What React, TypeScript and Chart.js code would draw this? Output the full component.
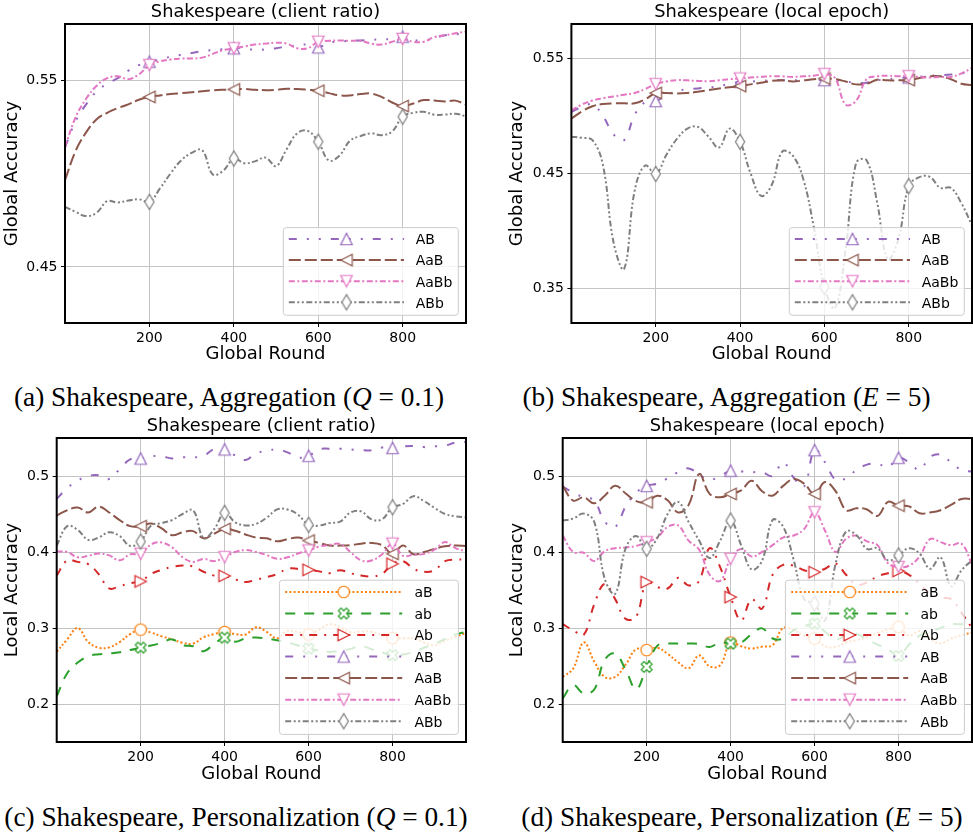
import React, { useEffect, useRef } from 'react';
import { Chart, registerables } from 'chart.js';

Chart.register(...registerables);

const SANS = "'DejaVu Sans', sans-serif";
const SERIF = "'Liberation Serif', 'DejaVu Serif', serif";

// ---- global rounds (x values) ----
const ROUNDS_AGG = [
  0, 25, 50, 75, 100, 125, 150, 175,
  200, 225, 250, 275, 300, 325, 350, 375,
  400, 425, 450, 475, 500, 525, 550, 575,
  600, 625, 650, 675, 700, 725, 750, 775,
  800, 825, 850, 875, 900, 925, 950,
];
const ROUNDS_PERS = [
  0, 25, 50, 75, 100, 125, 150, 175,
  200, 225, 250, 275, 300, 325, 350, 375,
  400, 425, 450, 475, 500, 525, 550, 575,
  600, 625, 650, 675, 700, 725, 750, 775,
  800, 825, 850, 875, 900, 925, 950, 975,
];

// ---- (a) aggregation, client ratio: global accuracy ----
const AGG_Q_AB = [
  0.514, 0.528, 0.537, 0.544, 0.548, 0.551, 0.555, 0.558,
  0.5598, 0.561, 0.5625, 0.5635, 0.5645, 0.5655, 0.566, 0.5665,
  0.567, 0.5672, 0.566, 0.5665, 0.567, 0.568, 0.5685, 0.569,
  0.5675, 0.570, 0.5705, 0.571, 0.5712, 0.5715, 0.5718, 0.572,
  0.5732, 0.5715, 0.571, 0.5725, 0.574, 0.5745, 0.575,
];
const AGG_Q_AaB = [
  0.4964, 0.512, 0.522, 0.529, 0.5325, 0.535, 0.537, 0.5395,
  0.541, 0.5418, 0.5425, 0.543, 0.5435, 0.544, 0.5445, 0.5448,
  0.545, 0.5452, 0.5448, 0.5446, 0.5448, 0.5453, 0.5452, 0.5448,
  0.5443, 0.543, 0.5418, 0.5418, 0.5425, 0.5428, 0.541, 0.538,
  0.5361, 0.5375, 0.5393, 0.539, 0.5385, 0.539, 0.5368,
];
const AGG_Q_AaBb = [
  0.514, 0.530, 0.540, 0.547, 0.551, 0.552, 0.5505, 0.553,
  0.558, 0.560, 0.561, 0.5615, 0.5615, 0.562, 0.564, 0.566,
  0.567, 0.568, 0.569, 0.5695, 0.570, 0.5695, 0.567, 0.567,
  0.5705, 0.571, 0.5712, 0.571, 0.571, 0.5695, 0.569, 0.5705,
  0.572, 0.5705, 0.5705, 0.573, 0.574, 0.575, 0.576,
];
const AGG_Q_ABb = [
  0.4821, 0.4795, 0.4772, 0.479, 0.4852, 0.4845, 0.4855, 0.4862,
  0.4848, 0.492, 0.500, 0.507, 0.511, 0.5125, 0.4995, 0.5015,
  0.508, 0.5055, 0.5065, 0.5085, 0.504, 0.513, 0.5215, 0.5228,
  0.517, 0.507, 0.5095, 0.5175, 0.520, 0.5215, 0.5205, 0.5225,
  0.5304, 0.5325, 0.533, 0.5315, 0.5315, 0.532, 0.5305,
];

// ---- (b) aggregation, local epoch: global accuracy ----
const AGG_E_AB = [
  0.5036, 0.508, 0.510, 0.500, 0.484, 0.479, 0.501, 0.512,
  0.513, 0.518, 0.5219, 0.523, 0.524, 0.5248, 0.526, 0.528,
  0.5297, 0.530, 0.5305, 0.531, 0.531, 0.531, 0.5312, 0.5312,
  0.5312, 0.531, 0.530, 0.529, 0.529, 0.531, 0.532, 0.533,
  0.5335, 0.534, 0.535, 0.5355, 0.536, 0.537, 0.5384,
];
const AGG_E_AaB = [
  0.4978, 0.504, 0.5085, 0.5105, 0.511, 0.511, 0.511, 0.5145,
  0.520, 0.520, 0.5196, 0.520, 0.521, 0.5225, 0.524, 0.525,
  0.526, 0.5275, 0.529, 0.5305, 0.531, 0.530, 0.531, 0.532,
  0.5326, 0.532, 0.530, 0.5275, 0.528, 0.5315, 0.531, 0.531,
  0.5312, 0.533, 0.5345, 0.5345, 0.532, 0.528, 0.5268,
];
const AGG_E_AaBb = [
  0.505, 0.510, 0.5135, 0.5155, 0.517, 0.5185, 0.520, 0.5235,
  0.5277, 0.530, 0.5312, 0.531, 0.5305, 0.5303, 0.531, 0.532,
  0.5326, 0.5335, 0.534, 0.5346, 0.5345, 0.534, 0.5345, 0.535,
  0.5364, 0.533, 0.510, 0.513, 0.532, 0.5345, 0.535, 0.5345,
  0.5346, 0.534, 0.5335, 0.534, 0.534, 0.537, 0.5419,
];
const AGG_E_ABb = [
  0.482, 0.481, 0.479, 0.457, 0.390, 0.367, 0.435, 0.457,
  0.4496, 0.466, 0.480, 0.489, 0.4905, 0.482, 0.4725, 0.489,
  0.4776, 0.450, 0.4305, 0.440, 0.469, 0.4655, 0.445, 0.403,
  0.3514, 0.333, 0.383, 0.459, 0.4615, 0.425, 0.3755, 0.392,
  0.439, 0.4468, 0.4471, 0.4375, 0.4375, 0.424, 0.405,
];

// ---- (c) personalization, client ratio: local accuracy ----
const PERS_Q_aB = [
  0.2685, 0.285, 0.300, 0.2817, 0.274, 0.2745, 0.2815, 0.292,
  0.2979, 0.294, 0.289, 0.285, 0.2805, 0.2795, 0.288, 0.292,
  0.2948, 0.292, 0.2915, 0.301, 0.295, 0.2865, 0.2965, 0.2945,
  0.2914, 0.298, 0.305, 0.301, 0.2945, 0.2955, 0.295, 0.2905,
  0.287, 0.2865, 0.2865, 0.281, 0.2774, 0.283, 0.2885, 0.2936,
];
const PERS_Q_ab = [
  0.210, 0.2405, 0.2545, 0.263, 0.2655, 0.2665, 0.268, 0.271,
  0.2742, 0.277, 0.2805, 0.285, 0.2775, 0.276, 0.2695, 0.279,
  0.2874, 0.282, 0.2865, 0.2875, 0.286, 0.284, 0.281, 0.277,
  0.273, 0.270, 0.2685, 0.270, 0.2725, 0.2765, 0.272, 0.268,
  0.2643, 0.265, 0.2687, 0.274, 0.279, 0.2855, 0.2915, 0.295,
];
const PERS_Q_Ab = [
  0.369, 0.389, 0.387, 0.384, 0.371, 0.352, 0.355, 0.359,
  0.3613, 0.3713, 0.3765, 0.3805, 0.3822, 0.381, 0.374, 0.369,
  0.3686, 0.364, 0.3605, 0.3635, 0.367, 0.371, 0.378, 0.378,
  0.3765, 0.3745, 0.372, 0.376, 0.372, 0.369, 0.368, 0.371,
  0.3845, 0.388, 0.378, 0.374, 0.376, 0.388, 0.390, 0.390,
];
const PERS_Q_AB = [
  0.470, 0.484, 0.494, 0.500, 0.501, 0.496, 0.509, 0.522,
  0.523, 0.526, 0.526, 0.523, 0.5245, 0.5245, 0.5265, 0.5354,
  0.535, 0.527, 0.521, 0.530, 0.533, 0.535, 0.531, 0.5244,
  0.5266, 0.535, 0.536, 0.536, 0.535, 0.534, 0.534, 0.5375,
  0.537, 0.539, 0.5395, 0.538, 0.539, 0.540, 0.544, 0.545,
];
const PERS_Q_AaB = [
  0.448, 0.455, 0.4585, 0.452, 0.4597, 0.452, 0.442, 0.434,
  0.434, 0.4375, 0.431, 0.422, 0.426, 0.4275, 0.418, 0.424,
  0.4304, 0.428, 0.423, 0.419, 0.418, 0.414, 0.417, 0.419,
  0.4151, 0.412, 0.4085, 0.4085, 0.409, 0.411, 0.412, 0.409,
  0.3976, 0.4085, 0.397, 0.400, 0.4042, 0.4075, 0.4085, 0.408,
];
const PERS_Q_AaBb = [
  0.4007, 0.400, 0.393, 0.395, 0.398, 0.3955, 0.389, 0.397,
  0.3976, 0.410, 0.4125, 0.406, 0.393, 0.387, 0.391, 0.388,
  0.3932, 0.400, 0.4025, 0.400, 0.396, 0.391, 0.393, 0.398,
  0.402, 0.407, 0.4095, 0.4105, 0.400, 0.389, 0.3888, 0.397,
  0.411, 0.395, 0.3965, 0.3975, 0.403, 0.413, 0.405, 0.401,
];
const PERS_Q_ABb = [
  0.4085, 0.434, 0.429, 0.416, 0.419, 0.426, 0.421, 0.408,
  0.4138, 0.4348, 0.438, 0.442, 0.450, 0.455, 0.418, 0.430,
  0.4514, 0.4391, 0.435, 0.437, 0.445, 0.456, 0.456, 0.449,
  0.4357, 0.4348, 0.438, 0.440, 0.452, 0.4535, 0.443, 0.443,
  0.4588, 0.4632, 0.4735, 0.467, 0.458, 0.450, 0.447, 0.4457,
];

// ---- (d) personalization, local epoch: local accuracy ----
const PERS_E_aB = [
  0.2357, 0.2467, 0.281, 0.256, 0.2357, 0.2357, 0.252, 0.272,
  0.271, 0.274, 0.266, 0.255, 0.247, 0.264, 0.2495, 0.251,
  0.2809, 0.276, 0.273, 0.2755, 0.2774, 0.300, 0.297, 0.290,
  0.2862, 0.276, 0.275, 0.281, 0.284, 0.288, 0.2935, 0.298,
  0.3015, 0.290, 0.296, 0.286, 0.2796, 0.286, 0.2905, 0.294,
];
const PERS_E_ab = [
  0.2074, 0.2248, 0.2139, 0.219, 0.258, 0.2664, 0.245, 0.2195,
  0.2488, 0.2765, 0.2795, 0.2795, 0.2795, 0.279, 0.275, 0.281,
  0.2795, 0.281, 0.292, 0.2995, 0.2862, 0.286, 0.297, 0.302,
  0.3058, 0.295, 0.285, 0.290, 0.292, 0.285, 0.278, 0.272,
  0.2633, 0.278, 0.290, 0.295, 0.300, 0.305, 0.305, 0.308,
];
const PERS_E_Ab = [
  0.305, 0.297, 0.291, 0.331, 0.358, 0.338, 0.312, 0.315,
  0.3604, 0.354, 0.352, 0.366, 0.356, 0.362, 0.405, 0.380,
  0.3407, 0.310, 0.338, 0.3254, 0.370, 0.383, 0.382, 0.376,
  0.3735, 0.378, 0.385, 0.370, 0.357, 0.360, 0.368, 0.372,
  0.375, 0.370, 0.358, 0.345, 0.340, 0.338, 0.320, 0.300,
];
const PERS_E_AB = [
  0.486, 0.478, 0.472, 0.468, 0.440, 0.433, 0.460, 0.478,
  0.487, 0.490, 0.497, 0.505, 0.510, 0.502, 0.495, 0.500,
  0.507, 0.506, 0.505, 0.505, 0.500, 0.518, 0.498, 0.486,
  0.534, 0.518, 0.495, 0.497, 0.508, 0.515, 0.516, 0.512,
  0.524, 0.518, 0.508, 0.525, 0.528, 0.518, 0.508, 0.506,
];
const PERS_E_AaB = [
  0.487, 0.4676, 0.472, 0.464, 0.474, 0.4873, 0.477, 0.467,
  0.4654, 0.4741, 0.468, 0.452, 0.462, 0.5026, 0.4764, 0.472,
  0.4764, 0.481, 0.4938, 0.480, 0.4741, 0.487, 0.496, 0.490,
  0.4764, 0.492, 0.480, 0.455, 0.4575, 0.456, 0.4475, 0.466,
  0.461, 0.460, 0.451, 0.452, 0.455, 0.462, 0.4698, 0.4698,
];
const PERS_E_AaBb = [
  0.4217, 0.400, 0.399, 0.388, 0.401, 0.405, 0.406, 0.408,
  0.4129, 0.419, 0.433, 0.435, 0.415, 0.403, 0.370, 0.362,
  0.391, 0.404, 0.394, 0.400, 0.409, 0.419, 0.4217, 0.430,
  0.4523, 0.428, 0.400, 0.4175, 0.4215, 0.414, 0.409, 0.385,
  0.3802, 0.382, 0.394, 0.417, 0.413, 0.409, 0.411, 0.384,
];
const PERS_E_ABb = [
  0.4413, 0.444, 0.4505, 0.440, 0.365, 0.345, 0.405, 0.421,
  0.4042, 0.418, 0.450, 0.466, 0.4395, 0.415, 0.392, 0.415,
  0.4413, 0.409, 0.377, 0.3885, 0.442, 0.4335, 0.390, 0.338,
  0.332, 0.310, 0.3845, 0.427, 0.422, 0.404, 0.405, 0.389,
  0.3954, 0.405, 0.398, 0.378, 0.3932, 0.355, 0.376, 0.389,
];

// ---- ticks ----
const MARKER_ROUNDS = [200, 400, 600, 800];
const X_TICKS = [200, 400, 600, 800];
const X_TICK_LABELS = ['200', '400', '600', '800'];
const Y_TICKS_A = [0.45, 0.55];
const Y_TICK_LABELS_A = ['0.45', '0.55'];
const Y_TICKS_B = [0.35, 0.45, 0.55];
const Y_TICK_LABELS_B = ['0.35', '0.45', '0.55'];
const Y_TICKS_CD = [0.2, 0.3, 0.4, 0.5];
const Y_TICK_LABELS_CD = ['0.2', '0.3', '0.4', '0.5'];

// ---- series appearance ----
type Style = { color: string; dash: number[]; shape: string };
const STYLES: Record<string, Style> = {
  aB: { color: '#ff7f0e', dash: [2, 2.2], shape: 'circle' },
  ab: { color: '#2ca02c', dash: [10, 9], shape: 'xfilled' },
  Ab: { color: '#d62728', dash: [8, 7, 2, 7], shape: 'triRight' },
  AB: { color: '#9467bd', dash: [8, 10, 2, 10, 2, 10], shape: 'triUp' },
  AaB: { color: '#8c564b', dash: [12, 4], shape: 'triLeft' },
  AaBb: { color: '#e377c2', dash: [6, 2.5, 2, 2.5], shape: 'triDown' },
  ABb: { color: '#7f7f7f', dash: [6, 2.5, 2, 2.5, 2, 2.5], shape: 'thinDiamond' },
};

const MARKER_SIZE = 11.5;

function markerImage(shape: string, color: string): HTMLCanvasElement {
  const dim = 22;
  const c = document.createElement('canvas');
  c.width = dim;
  c.height = dim;
  const g = c.getContext('2d') as CanvasRenderingContext2D;
  g.translate(dim / 2, dim / 2);
  const h = MARKER_SIZE / 2;
  g.beginPath();
  if (shape === 'circle') {
    g.arc(0, 0, h, 0, Math.PI * 2);
  } else if (shape === 'triUp') {
    g.moveTo(0, -h); g.lineTo(h, h); g.lineTo(-h, h); g.closePath();
  } else if (shape === 'triDown') {
    g.moveTo(0, h); g.lineTo(h, -h); g.lineTo(-h, -h); g.closePath();
  } else if (shape === 'triLeft') {
    g.moveTo(-h, 0); g.lineTo(h, -h); g.lineTo(h, h); g.closePath();
  } else if (shape === 'triRight') {
    g.moveTo(h, 0); g.lineTo(-h, -h); g.lineTo(-h, h); g.closePath();
  } else if (shape === 'thinDiamond') {
    const dh = MARKER_SIZE * 0.66;
    const dw = MARKER_SIZE * 0.4;
    g.moveTo(0, -dh); g.lineTo(dw, 0); g.lineTo(0, dh); g.lineTo(-dw, 0); g.closePath();
  } else if (shape === 'xfilled') {
    const pts = [[-1, -3], [1, -3], [1, -1], [3, -1], [3, 1], [1, 1], [1, 3], [-1, 3], [-1, 1], [-3, 1], [-3, -1], [-1, -1]];
    const s = MARKER_SIZE / 6;
    const cs = Math.SQRT1_2;
    pts.forEach(([px, py], k) => {
      const rx = (px * cs - py * cs) * s;
      const ry = (px * cs + py * cs) * s;
      if (k === 0) g.moveTo(rx, ry); else g.lineTo(rx, ry);
    });
    g.closePath();
  }
  g.fillStyle = '#ffffff';
  g.fill();
  g.lineWidth = 1.2;
  g.strokeStyle = color;
  g.stroke();
  return c;
}

type LegendGeom = {
  width: number; first: number; spacing: number; tail: number;
  lineStart: number; lineEnd: number; markerX: number; textX: number; inset: number;
};
const LEGEND_4: LegendGeom = { width: 175, first: 11.4, spacing: 21.1, tail: 13, lineStart: 5.5, lineEnd: 120.7, markerX: 63.2, textX: 132.4, inset: 7.7 };
const LEGEND_7: LegendGeom = { width: 179, first: 11.7, spacing: 21.55, tail: 13.2, lineStart: 5.8, lineEnd: 122.8, markerX: 64.3, textX: 135, inset: 7.6 };

// Frame around the plot area plus a matplotlib-style legend with line samples.
const frameLegendPlugin = {
  id: 'frameLegend',
  afterDraw(chart: any, _args: any, opts: any) {
    const { ctx, chartArea: a } = chart;
    const L: LegendGeom = opts.geom;
    ctx.save();
    ctx.setLineDash([]);
    ctx.strokeStyle = '#000';
    ctx.lineWidth = 2;
    ctx.strokeRect(a.left, a.top, a.right - a.left, a.bottom - a.top);

    const ds = chart.data.datasets;
    const n = ds.length;
    const h = L.first + (n - 1) * L.spacing + L.tail;
    const x0 = a.right - L.inset - L.width;
    const y0 = a.bottom - L.inset - h;
    ctx.beginPath();
    ctx.roundRect(x0, y0, L.width, h, 3);
    ctx.fillStyle = 'rgba(255,255,255,0.8)';
    ctx.fill();
    ctx.strokeStyle = '#cccccc';
    ctx.lineWidth = 1;
    ctx.stroke();

    ds.forEach((d: any, i: number) => {
      const y = y0 + L.first + i * L.spacing;
      ctx.beginPath();
      ctx.setLineDash(d.borderDash);
      ctx.strokeStyle = d.borderColor;
      ctx.lineWidth = d.borderWidth;
      ctx.moveTo(x0 + L.lineStart, y);
      ctx.lineTo(x0 + L.lineEnd, y);
      ctx.stroke();
      ctx.setLineDash([]);
      const img = d.pointStyle as HTMLCanvasElement;
      ctx.drawImage(img, x0 + L.markerX - img.width / 2, y - img.height / 2);
      ctx.fillStyle = '#000';
      ctx.font = `14px ${SANS}`;
      ctx.textAlign = 'left';
      ctx.textBaseline = 'alphabetic';
      ctx.fillText(d.label, x0 + L.textX, y + 5.3);
    });
    ctx.restore();
  },
};

type Series = { label: string; values: number[] };
type PanelSpec = {
  left: number; top: number; w: number; h: number;
  L: number; R: number; T: number; B: number;
  yTitleMid: number; xTitleMid: number;
  title: string; yLabel: string;
  yMin: number; yMax: number; yTicks: number[]; yTickLabels: string[];
  xMax: number; rounds: number[]; series: Series[]; legend: LegendGeom;
};

const PANELS: PanelSpec[] = [
  {
    left: 0, top: 0, w: 490, h: 380, L: 65, R: 466, T: 24, B: 323,
    yTitleMid: 12.3, xTitleMid: 354.7,
    title: 'Shakespeare (client ratio)', yLabel: 'Global Accuracy',
    yMin: 0.42, yMax: 0.58, yTicks: Y_TICKS_A, yTickLabels: Y_TICK_LABELS_A,
    xMax: 950, rounds: ROUNDS_AGG, legend: LEGEND_4,
    series: [
      { label: 'AB', values: AGG_Q_AB },
      { label: 'AaB', values: AGG_Q_AaB },
      { label: 'AaBb', values: AGG_Q_AaBb },
      { label: 'ABb', values: AGG_Q_ABb },
    ],
  },
  {
    left: 490, top: 0, w: 483, h: 380, L: 81.4, R: 482, T: 24, B: 323,
    yTitleMid: 27.7, xTitleMid: 354.7,
    title: 'Shakespeare (local epoch)', yLabel: 'Global Accuracy',
    yMin: 0.32, yMax: 0.58, yTicks: Y_TICKS_B, yTickLabels: Y_TICK_LABELS_B,
    xMax: 950, rounds: ROUNDS_AGG, legend: LEGEND_4,
    series: [
      { label: 'AB', values: AGG_E_AB },
      { label: 'AaB', values: AGG_E_AaB },
      { label: 'AaBb', values: AGG_E_AaBb },
      { label: 'ABb', values: AGG_E_ABb },
    ],
  },
  {
    left: 0, top: 414, w: 490, h: 375, L: 56.7, R: 466, T: 24, B: 328,
    yTitleMid: 12.2, xTitleMid: 360,
    title: 'Shakespeare (client ratio)', yLabel: 'Local Accuracy',
    yMin: 0.15, yMax: 0.55, yTicks: Y_TICKS_CD, yTickLabels: Y_TICK_LABELS_CD,
    xMax: 975, rounds: ROUNDS_PERS, legend: LEGEND_7,
    series: [
      { label: 'aB', values: PERS_Q_aB },
      { label: 'ab', values: PERS_Q_ab },
      { label: 'Ab', values: PERS_Q_Ab },
      { label: 'AB', values: PERS_Q_AB },
      { label: 'AaB', values: PERS_Q_AaB },
      { label: 'AaBb', values: PERS_Q_AaBb },
      { label: 'ABb', values: PERS_Q_ABb },
    ],
  },
  {
    left: 490, top: 414, w: 483, h: 375, L: 72.7, R: 482, T: 24, B: 328,
    yTitleMid: 27.8, xTitleMid: 360,
    title: 'Shakespeare (local epoch)', yLabel: 'Local Accuracy',
    yMin: 0.15, yMax: 0.55, yTicks: Y_TICKS_CD, yTickLabels: Y_TICK_LABELS_CD,
    xMax: 975, rounds: ROUNDS_PERS, legend: LEGEND_7,
    series: [
      { label: 'aB', values: PERS_E_aB },
      { label: 'ab', values: PERS_E_ab },
      { label: 'Ab', values: PERS_E_Ab },
      { label: 'AB', values: PERS_E_AB },
      { label: 'AaB', values: PERS_E_AaB },
      { label: 'AaBb', values: PERS_E_AaBb },
      { label: 'ABb', values: PERS_E_ABb },
    ],
  },
];

const CAPTIONS = [
  { cx: 229, cy: 397, head: '(a) Shakespeare, Aggregation (', sym: 'Q', tail: ' = 0.1)' },
  { cx: 726.5, cy: 397, head: '(b) Shakespeare, Aggregation (', sym: 'E', tail: ' = 5)' },
  { cx: 236, cy: 817, head: '(c) Shakespeare, Personalization (', sym: 'Q', tail: ' = 0.1)' },
  { cx: 742, cy: 817, head: '(d) Shakespeare, Personalization (', sym: 'E', tail: ' = 5)' },
];

const TITLE_SIZE = 17.8;
const AXIS_TITLE_SIZE = 18;
const TICK_SIZE = 14;

function Panel({ spec }: { spec: PanelSpec }) {
  const ref = useRef<HTMLCanvasElement>(null);
  useEffect(() => {
    const canvas = ref.current;
    if (!canvas) return;
    const n = spec.series.length;
    const titleLH = TITLE_SIZE * 1.2;
    const axisLH = AXIS_TITLE_SIZE * 1.2;
    const titlePadTop = 12 - titleLH / 2;
    const chart = new Chart(canvas, {
      type: 'line',
      data: {
        datasets: spec.series.map((s, i) => {
          const st = STYLES[s.label];
          return {
            label: s.label,
            data: spec.rounds.map((r, j) => ({ x: r, y: s.values[j] })),
            borderColor: st.color,
            borderWidth: 2,
            borderDash: st.dash,
            borderCapStyle: 'butt',
            fill: false,
            tension: 0.4,
            pointStyle: markerImage(st.shape, st.color),
            pointRadius: (c: any) => (c.raw && MARKER_ROUNDS.includes(c.raw.x) ? 6 : 0),
            pointHoverRadius: 0,
            order: n - i,
          } as any;
        }),
      },
      options: {
        responsive: false,
        animation: false,
        events: [],
        layout: { padding: { left: 0, right: spec.w - spec.R, top: 0, bottom: 0 } },
        plugins: {
          legend: { display: false },
          tooltip: { enabled: false },
          title: {
            display: true,
            text: spec.title,
            fullSize: false,
            color: '#000',
            font: { family: SANS, size: TITLE_SIZE, weight: 'normal', lineHeight: 1.2 },
            padding: { top: titlePadTop, bottom: spec.T - titleLH - titlePadTop },
          },
          frameLegend: { geom: spec.legend },
        } as any,
        scales: {
          x: {
            type: 'linear',
            min: 0,
            max: spec.xMax,
            afterBuildTicks: (s: any) => { s.ticks = X_TICKS.map((v) => ({ value: v })); },
            afterFit: (s: any) => { s.height = spec.h - spec.B; },
            ticks: {
              color: '#000',
              font: { family: SANS, size: TICK_SIZE },
              padding: 3,
              maxRotation: 0,
              autoSkip: false,
              callback: (_v: any, i: number) => X_TICK_LABELS[i],
            },
            grid: { color: '#c4c4c4', lineWidth: 1, tickColor: '#000', tickLength: 4, tickWidth: 1 },
            border: { display: false },
            title: {
              display: true,
              text: 'Global Round',
              color: '#000',
              font: { family: SANS, size: AXIS_TITLE_SIZE, lineHeight: 1.2 },
              padding: { top: 0, bottom: spec.h - spec.xTitleMid - axisLH / 2 },
            },
          },
          y: {
            type: 'linear',
            min: spec.yMin,
            max: spec.yMax,
            afterBuildTicks: (s: any) => { s.ticks = spec.yTicks.map((v) => ({ value: v })); },
            afterFit: (s: any) => { s.width = spec.L; },
            ticks: {
              color: '#000',
              font: { family: SANS, size: TICK_SIZE },
              padding: 3.5,
              autoSkip: false,
              callback: (_v: any, i: number) => spec.yTickLabels[i],
            },
            grid: { color: '#c4c4c4', lineWidth: 1, tickColor: '#000', tickLength: 4, tickWidth: 1 },
            border: { display: false },
            title: {
              display: true,
              text: spec.yLabel,
              color: '#000',
              font: { family: SANS, size: AXIS_TITLE_SIZE, lineHeight: 1.2 },
              padding: { top: spec.yTitleMid - axisLH / 2, bottom: 0 },
            },
          },
        },
      } as any,
      plugins: [frameLegendPlugin],
    });
    return () => chart.destroy();
  }, [spec]);

  return (
    <canvas
      ref={ref}
      width={spec.w}
      height={spec.h}
      style={{ position: 'absolute', left: spec.left, top: spec.top }}
    />
  );
}

export default function App() {
  return (
    <div style={{ position: 'absolute', left: 0, top: 0, width: 973, height: 835, background: '#fff', overflow: 'hidden' }}>
      {PANELS.map((p, i) => (
        <Panel key={i} spec={p} />
      ))}
      {CAPTIONS.map((c, i) => (
        <div
          key={'cap' + i}
          style={{
            position: 'absolute',
            left: c.cx - 300,
            top: c.cy - 15,
            width: 600,
            textAlign: 'center',
            fontFamily: SERIF,
            fontSize: 27.3,
            lineHeight: '30px',
            whiteSpace: 'nowrap',
            color: '#000',
          }}
        >
          {c.head}
          <i>{c.sym}</i>
          {c.tail}
        </div>
      ))}
    </div>
  );
}
